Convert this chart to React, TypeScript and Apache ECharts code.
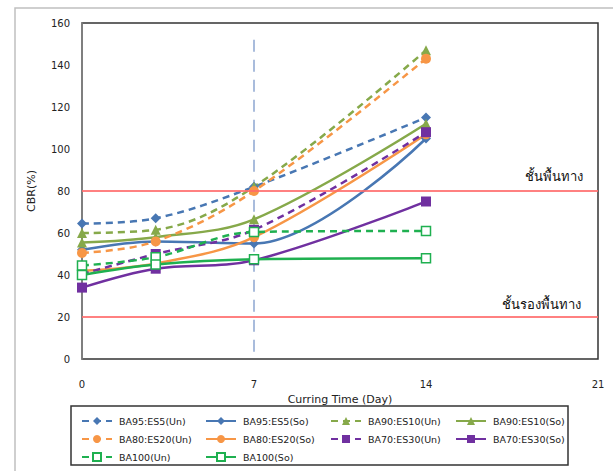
import React, { useEffect, useRef } from "react";
import * as echarts from "echarts";

const days = [0, 3, 7, 14];
const xTicks = [0, 7, 14, 21];
const ba95Un = [64.5, 67, 82, 115];
const ba95So = [52, 56, 55, 105];
const ba90Un = [60, 61.5, 82, 147];
const ba90So = [55.5, 58, 66.5, 112];
const ba80Un = [50.5, 56, 80, 143];
const ba80So = [42, 45.5, 58, 107];
const ba70Un = [40.5, 50, 61.5, 108];
const ba70So = [34, 43, 47, 75];
const ba100Un = [44.5, 48.5, 60.5, 61];
const ba100So = [40, 45, 47.5, 48];
const baseLine = 80;
const subBaseLine = 20;
const refDayLine = 7;

const BLUE = "#4877b3";
const OLIVE = "#86a94a";
const ORANGE = "#f79646";
const PURPLE = "#7030a0";
const GREEN = "#1fb050";

type Def = { name: string; data: number[]; color: string; dashed: boolean; symbol: string; size: number; open?: boolean };

const defs: Def[] = [
  { name: "BA95:ES5(Un)", data: ba95Un, color: BLUE, dashed: true, symbol: "diamond", size: 10 },
  { name: "BA95:ES5(So)", data: ba95So, color: BLUE, dashed: false, symbol: "diamond", size: 10 },
  { name: "BA90:ES10(Un)", data: ba90Un, color: OLIVE, dashed: true, symbol: "triangle", size: 10 },
  { name: "BA90:ES10(So)", data: ba90So, color: OLIVE, dashed: false, symbol: "triangle", size: 10 },
  { name: "BA80:ES20(Un)", data: ba80Un, color: ORANGE, dashed: true, symbol: "circle", size: 10 },
  { name: "BA80:ES20(So)", data: ba80So, color: ORANGE, dashed: false, symbol: "circle", size: 10 },
  { name: "BA70:ES30(Un)", data: ba70Un, color: PURPLE, dashed: true, symbol: "rect", size: 10 },
  { name: "BA70:ES30(So)", data: ba70So, color: PURPLE, dashed: false, symbol: "rect", size: 10 },
  { name: "BA100(Un)", data: ba100Un, color: GREEN, dashed: true, symbol: "rect", size: 9, open: true },
  { name: "BA100(So)", data: ba100So, color: GREEN, dashed: false, symbol: "rect", size: 9, open: true },
];

const FONT = "DejaVu Sans";

export default function App() {
  const ref = useRef<HTMLDivElement>(null);
  useEffect(() => {
    if (!ref.current) return;
    const chart = echarts.init(ref.current, undefined, { renderer: "svg" });
    const series: any[] = defs.map((d) => ({
      name: d.name,
      type: "line",
      smooth: 0.35,
      data: d.data.map((v, i) => [days[i], v]),
      symbol: d.symbol,
      symbolSize: d.size,
      showSymbol: true,
      lineStyle: { color: d.color, width: 2.5, type: d.dashed ? [7, 5] : "solid" },
      itemStyle: d.open
        ? { color: "#ffffff", borderColor: d.color, borderWidth: 1.5 }
        : { color: d.color, borderWidth: 0 },
      z: 3,
    }));
    series.push({
      name: "ref",
      type: "line",
      data: [],
      silent: true,
      markLine: {
        symbol: "none",
        silent: true,
        label: { show: false },
        lineStyle: { color: "#ff6b6b", width: 2, type: "solid", opacity: 0.85 },
        data: [{ yAxis: baseLine }, { yAxis: subBaseLine }],
      },
      z: 1,
    });
    series.push({
      name: "day7",
      type: "line",
      data: [[refDayLine, 152], [refDayLine, 0]],
      symbol: "none",
      silent: true,
      lineStyle: { color: "#a9bcdc", width: 2, type: [12, 8] },
      z: 2,
    });
    const col = (names: string[], left: number) => ({
      data: names,
      orient: "vertical",
      left,
      top: 411,
      itemGap: 8,
      itemWidth: 30,
      itemHeight: 10,
      textStyle: { fontFamily: FONT, fontSize: 9.5, color: "#222", padding: [0, 0, 0, 2] },
      selectedMode: false,
    });
    chart.setOption({
      animation: false,
      backgroundColor: "#ffffff",
      grid: { left: 82, right: 15, top: 23, bottom: 112, show: true, borderColor: "#333", borderWidth: 1.5, backgroundColor: "transparent" },
      xAxis: {
        type: "value",
        min: 0,
        max: 21,
        interval: 7,
        name: "Curring Time (Day)",
        nameLocation: "middle",
        nameGap: 31,
        nameTextStyle: { fontFamily: FONT, fontSize: 11, color: "#222" },
        axisLine: { show: false },
        axisTick: { show: false },
        splitLine: { show: false },
        axisLabel: {
          margin: 20,
          fontFamily: FONT,
          fontSize: 10,
          color: "#222",
          customValues: xTicks,
        },
      },
      yAxis: {
        type: "value",
        min: 0,
        max: 160,
        interval: 20,
        name: "CBR(%)",
        nameLocation: "middle",
        nameGap: 45,
        nameTextStyle: { fontFamily: FONT, fontSize: 11, color: "#222" },
        axisLine: { show: true, lineStyle: { color: "#888", width: 1.5 } },
        axisTick: { show: false },
        splitLine: { show: false },
        axisLabel: { margin: 12, fontFamily: FONT, fontSize: 10, color: "#222" },
      },
      legend: [
        col(["BA95:ES5(Un)", "BA80:ES20(Un)", "BA100(Un)"], 76),
        col(["BA95:ES5(So)", "BA80:ES20(So)", "BA100(So)"], 200),
        col(["BA90:ES10(Un)", "BA70:ES30(Un)"], 325),
        col(["BA90:ES10(So)", "BA70:ES30(So)"], 450),
      ],
      graphic: [
        { type: "rect", shape: { x: 15, y: 8, width: 700, height: 600 }, style: { fill: "none", stroke: "#c0c0c0", lineWidth: 1.5 }, silent: true },
        { type: "rect", shape: { x: 71, y: 406, width: 497, height: 59 }, style: { fill: "none", stroke: "#333", lineWidth: 1.5 }, silent: true },
        { type: "text", right: 30, top: 169, style: { text: "ชั้นพื้นทาง", font: "13px 'Noto Sans', sans-serif", fill: "#111" } },
        { type: "text", right: 32, top: 297, style: { text: "ชั้นรองพื้นทาง", font: "13px 'Noto Sans', sans-serif", fill: "#111" } },
      ],
      series,
    });
    return () => chart.dispose();
  }, []);
  return <div ref={ref} style={{ width: 613, height: 471, position: "absolute", left: 0, top: 0 }} />;
}
